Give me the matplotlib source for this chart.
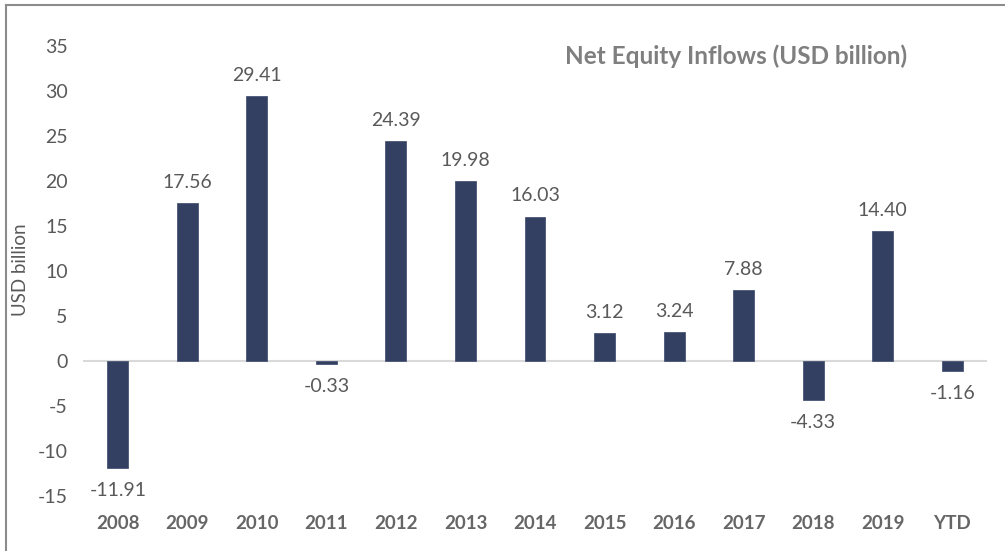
import matplotlib
matplotlib.use("Agg")
import matplotlib.pyplot as plt
from matplotlib.lines import Line2D

categories = ["2008", "2009", "2010", "2011", "2012", "2013", "2014",
              "2015", "2016", "2017", "2018", "2019", "YTD"]
values = [-11.91, 17.56, 29.41, -0.33, 24.39, 19.98, 16.03,
          3.12, 3.24, 7.88, -4.33, 14.40, -1.16]
y_ticks = [-15, -10, -5, 0, 5, 10, 15, 20, 25, 30, 35]
title = "Net Equity Inflows (USD billion)"
y_label = "USD billion"

plt.rcParams['font.family'] = ['Lato', 'DejaVu Sans']

W, H = 1005, 551
fig = plt.figure(figsize=(W / 100, H / 100), dpi=100)
fig.patch.set_facecolor("white")

ax = fig.add_axes([83 / W, 1 - 496 / H, (987 - 83) / W, (496 - 46) / H])
ax.set_facecolor("none")

x = list(range(len(categories)))
bar_color = "#344062"
ax.bar(x, values, width=0.3, color=bar_color, edgecolor="#4a5677",
       linewidth=0.6, zorder=3)

ax.set_xlim(-0.5, len(categories) - 0.5)
ax.set_ylim(-15, 35)
ax.axhline(0, color="#d9d9d9", linewidth=1.5, zorder=2)

for s in ax.spines.values():
    s.set_visible(False)

ax.set_yticks(y_ticks)
ax.set_yticklabels([str(t) for t in y_ticks])
ax.tick_params(axis="y", length=0, pad=11, labelsize=14, labelcolor="#595959")
ax.set_xticks([])

gray = "#595959"
for xi, v, c in zip(x, values, categories):
    if v >= 0:
        ax.annotate(f"{v:.2f}", (xi, v), xytext=(0, 15), textcoords="offset points",
                    ha="center", va="center", fontsize=14, color=gray)
    else:
        ax.annotate(f"{v:.2f}", (xi, v), xytext=(0, -16), textcoords="offset points",
                    ha="center", va="center", fontsize=14, color=gray)
    ax.annotate(c, (xi, -15), xytext=(0, -20), textcoords="offset points",
                ha="center", va="center", fontsize=13.5, fontweight="bold",
                color="#666666", annotation_clip=False)

fig.text(907 / W, 1 - 56 / H, title, ha="right", va="center",
         fontsize=17.5, fontweight="bold", color="#7f7f7f")
fig.text(21 / W, 1 - 270 / H, y_label, rotation=90, ha="center", va="center",
         fontsize=13.5, color=gray)

# figure frame
fig.add_artist(Line2D([6 / W, 1.0], [1 - 4.5 / H, 1 - 4.5 / H], transform=fig.transFigure,
                      color="#8c8c8c", linewidth=1.5))
fig.add_artist(Line2D([6 / W, 6 / W], [0.0, 1 - 4.5 / H], transform=fig.transFigure,
                      color="#8c8c8c", linewidth=1.5))

fig.savefig("out.png", dpi=100)
